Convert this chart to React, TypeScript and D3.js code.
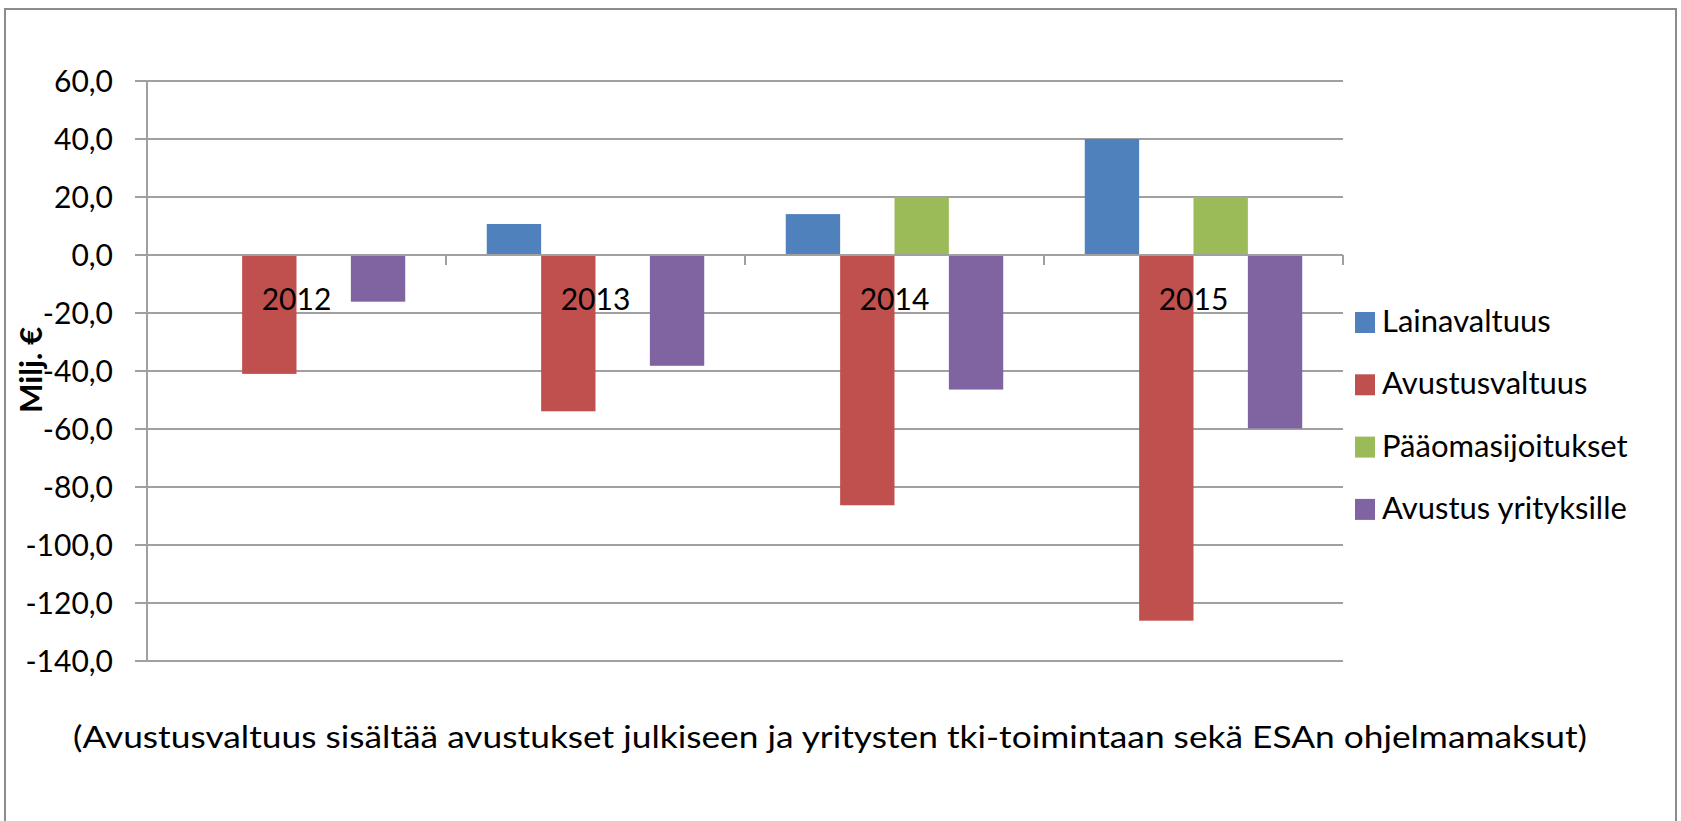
import React from "react";
import * as d3 from "d3";

const years = ["2012", "2013", "2014", "2015"];
const seriesNames = ["Lainavaltuus", "Avustusvaltuus", "Pääomasijoitukset", "Avustus yrityksille"];
const lainavaltuus = [0, 10.7, 14.1, 40.0];
const avustusvaltuus = [-41.0, -53.9, -86.3, -126.1];
const paaomasijoitukset = [0, 0, 20.0, 20.0];
const avustusYrityksille = [-16.1, -38.2, -46.4, -59.8];
const seriesColors = ["#4F81BD", "#C0504D", "#9BBB59", "#8064A2"];
const yTicks = [60, 40, 20, 0, -20, -40, -60, -80, -100, -120, -140];
const yTitle = "Milj. €";
const footnote = "(Avustusvaltuus sisältää  avustukset julkiseen ja yritysten tki-toimintaan sekä ESAn ohjelmamaksut)";

const W = 1681;
const H = 821;
const FONT = "Lato, 'Open Sans', sans-serif";

export default function App() {
  const seriesValues = [lainavaltuus, avustusvaltuus, paaomasijoitukset, avustusYrityksille];
  const plotLeft = 147;
  const plotRight = 1343;
  const plotTop = 81;
  const plotBottom = 661;

  const y = d3.scaleLinear().domain([-140, 60]).range([plotBottom, plotTop]);
  const x0 = d3.scaleBand<string>().domain(years).range([plotLeft, plotRight]).paddingInner(0).paddingOuter(0);
  const x1 = d3
    .scaleBand<string>()
    .domain(seriesNames)
    .range([0, x0.bandwidth()])
    .paddingInner(0)
    .paddingOuter(0.75);

  const fmt = (v: number) => d3.format(".1f")(v).replace(".", ",").replace("−", "-");
  const y0 = y(0);
  const gridColor = "#A0A0A0";

  const catTicks = [...years.map((yr) => x0(yr) as number), plotRight];

  return (
    <svg
      width={W}
      height={H}
      style={{ position: "absolute", left: 0, top: 0, background: "#fff" }}
      fontFamily={FONT}
    >
      <rect x={0} y={0} width={W} height={H} fill="#fff" />
      <rect x={5} y={9} width={1671} height={H + 20} fill="none" stroke="#8C8C8C" strokeWidth={2} />

      {/* gridlines and y ticks */}
      {yTicks.map((t) => (
        <g key={t}>
          <line x1={plotLeft - 12} x2={plotRight} y1={y(t)} y2={y(t)} stroke={gridColor} strokeWidth={2} />
          <text x={113} y={y(t)} dy="0.36em" textAnchor="end" fontSize={30} fill="#000">
            {fmt(t)}
          </text>
        </g>
      ))}
      {/* y axis */}
      <line x1={plotLeft} x2={plotLeft} y1={plotTop} y2={plotBottom} stroke={gridColor} strokeWidth={2} />

      {/* bars */}
      {years.map((yr, i) => (
        <g key={yr} transform={`translate(${x0(yr)},0)`}>
          {seriesNames.map((s, j) => {
            const v = seriesValues[j][i];
            if (!v) return null;
            const top = Math.min(y(v), y0);
            const h = Math.abs(y(v) - y0);
            return <rect key={s} x={x1(s)} y={top} width={x1.bandwidth()} height={h} fill={seriesColors[j]} />;
          })}
        </g>
      ))}

      {/* zero axis line and category ticks */}
      <line x1={plotLeft} x2={plotRight} y1={y0} y2={y0} stroke={gridColor} strokeWidth={2} />
      {catTicks.map((cx, i) => (
        <line key={i} x1={cx} x2={cx} y1={y0} y2={y0 + 10} stroke={gridColor} strokeWidth={2} />
      ))}

      {/* category labels */}
      {years.map((yr) => (
        <text
          key={yr}
          x={(x0(yr) as number) + x0.bandwidth() / 2}
          y={y0 + 55}
          textAnchor="middle"
          fontSize={30}
          fill="#000"
        >
          {yr}
        </text>
      ))}

      {/* y title */}
      <text
        transform={`translate(42,370) rotate(-90)`}
        textAnchor="middle"
        fontSize={30}
        fontWeight="bold"
        fill="#000"
        textLength={86}
        lengthAdjust="spacingAndGlyphs"
      >
        {yTitle}
      </text>

      {/* legend */}
      {seriesNames.map((s, j) => (
        <g key={s} transform={`translate(1355,${312 + j * 62.3})`}>
          <rect x={0} y={0} width={20} height={21} fill={seriesColors[j]} />
          <text x={27} y={20} fontSize={31} fill="#000">
            {s}
          </text>
        </g>
      ))}

      {/* footnote */}
      <text x={73} y={748} fontSize={30} fill="#000" textLength={1514} lengthAdjust="spacingAndGlyphs">
        {footnote}
      </text>
    </svg>
  );
}
